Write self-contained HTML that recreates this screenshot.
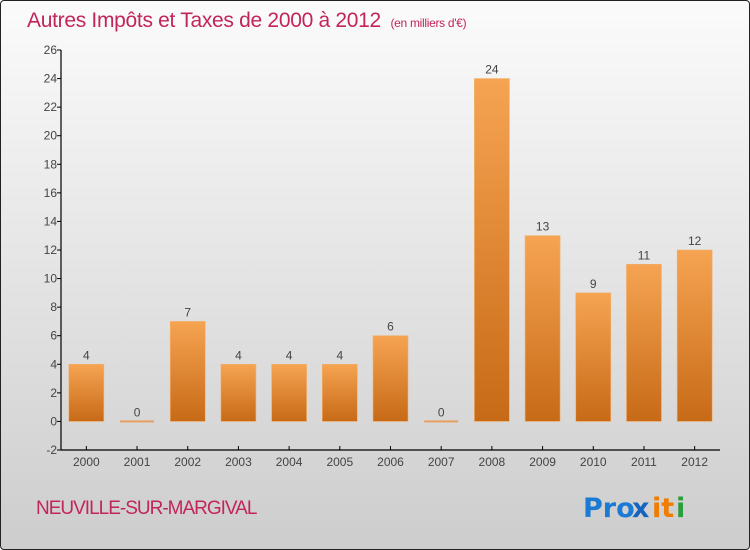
<!DOCTYPE html>
<html><head><meta charset="utf-8"><style>
html,body{margin:0;padding:0;}
body{width:750px;height:550px;overflow:hidden;font-family:"Liberation Sans",sans-serif;}
#wrap{position:absolute;left:0;top:0;width:748px;height:548px;border:1px solid #222;border-radius:4px;background:linear-gradient(#fbfbfb,#cdcdcd);}
</style></head><body>
<div id="wrap">
<svg id="chart" width="750" height="550" style="position:absolute;left:-1px;top:-1px">
<defs>
<linearGradient id="bg" x1="0" y1="0" x2="0" y2="1"><stop offset="0" stop-color="#f6a452"/><stop offset="1" stop-color="#c76a17"/></linearGradient>
</defs>
<text x="27" y="27" font-size="21" fill="#c2255c" style="letter-spacing:-0.3px">Autres Impôts et Taxes de 2000 à 2012 <tspan font-size="12" dx="4">(en milliers d'€)</tspan></text>
<g id="g"></g>
<text x="36" y="514" font-size="19" fill="#c2255c" style="letter-spacing:-1px">NEUVILLE-SUR-MARGIVAL</text>
<g font-size="27" font-weight="bold" font-family="'DejaVu Sans',sans-serif">
<text x="583" y="517" fill="#1a7ad4">Pro</text>
<text x="632" y="517" fill="#1565c0">x</text>
<text x="652" y="517" fill="#f07c00">it</text>
<text x="676" y="517" fill="#2a9d3c">i</text>
</g>
</svg>
</div>
<script>
const categories=["2000","2001","2002","2003","2004","2005","2006","2007","2008","2009","2010","2011","2012"];
const values=[4,0,7,4,4,4,6,0,24,13,9,11,12];
const yTicks=[-2,0,2,4,6,8,10,12,14,16,18,20,22,24,26];
const NS="http://www.w3.org/2000/svg";
const g=document.getElementById('g');
const X0=61,X1=720,Y0=450,Y1=50,vmin=-2,vmax=26;
const y=v=>Y0-(v-vmin)/(vmax-vmin)*(Y0-Y1);
const bw=(X1-X0)/categories.length;
const xc=i=>X0+bw*(i+0.5);
function mk(t,a){const e=document.createElementNS(NS,t);for(const k in a)e.setAttribute(k,a[k]);g.appendChild(e);return e;}
yTicks.forEach(t=>{
 const l=mk('line',{x1:X0-4,x2:X0,y1:y(t),y2:y(t),stroke:'#000'});
 
 
 const tx=mk('text',{x:X0-4,y:y(t)+4,'text-anchor':'end','font-size':12,fill:'#444'});
 tx.textContent=t;
 
 
});
values.forEach((v,i)=>{
 const cx=xc(i);
 let r;
 if(v===0){r=mk('rect',{x:cx-17,y:y(0)-1,width:34,height:2,fill:'#e8a060'});}
 else r=mk('rect',{x:cx-17.5,y:y(v),width:35,height:y(0)-y(v),fill:'url(#bg)',stroke:'#f0b070','stroke-width':0.6});
 
 
 const t=mk('text',{x:cx,y:y(v)-5,'text-anchor':'middle','font-size':12,fill:'#444'});
 t.textContent=v;
 
 
 const tk=mk('line',{x1:cx,x2:cx,y1:Y0-4,y2:Y0,stroke:'#000'});
 
 
 const c=mk('text',{x:cx,y:Y0+16,'text-anchor':'middle','font-size':12,fill:'#444'});
 c.textContent=categories[i];
 
 
});
const ya=mk('line',{x1:X0,x2:X0,y1:Y1,y2:Y0,stroke:'#000','stroke-width':1.2});


const xa=mk('line',{x1:X0,x2:X1,y1:Y0,y2:Y0,stroke:'#000','stroke-width':1.2});


</script>
</body></html>
